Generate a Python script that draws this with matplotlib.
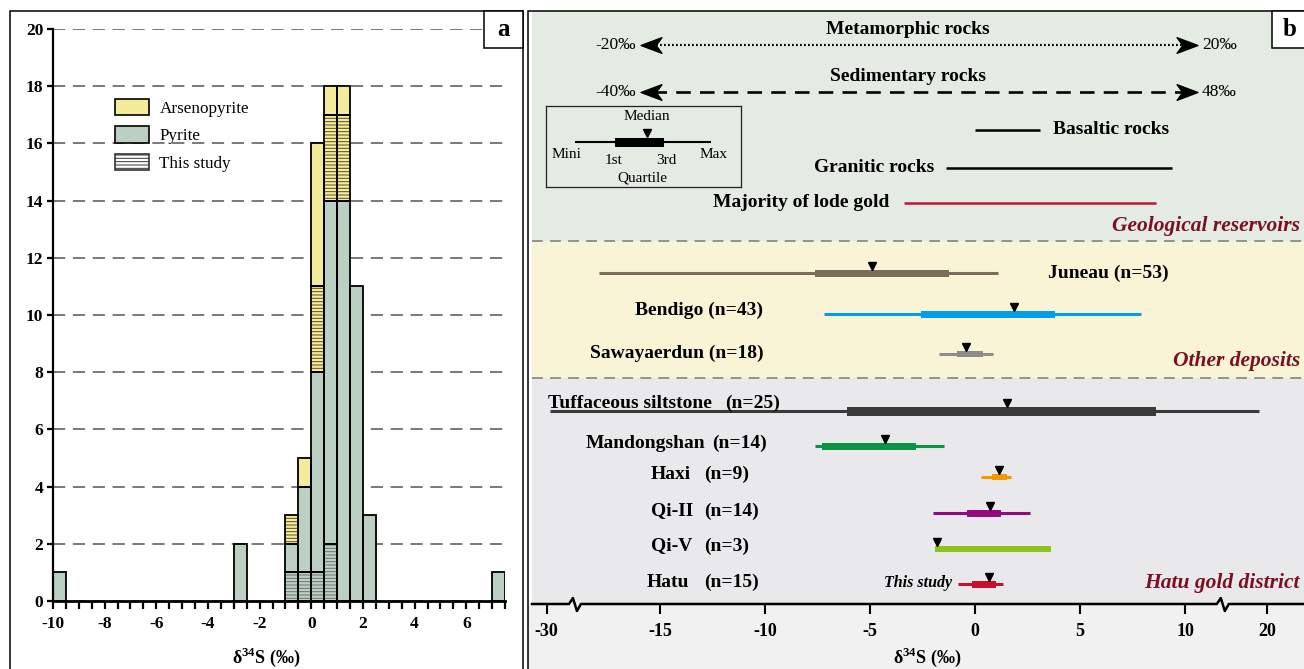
import numpy as np
import matplotlib
matplotlib.use('Agg')
import matplotlib.pyplot as plt
from matplotlib.patches import Rectangle, Patch
from matplotlib.lines import Line2D
from matplotlib.path import Path
from matplotlib import transforms

plt.rcParams['font.family'] = ['Liberation Serif', 'DejaVu Serif']
plt.rcParams['mathtext.fontset'] = 'custom'
plt.rcParams['mathtext.rm'] = 'Liberation Serif'
plt.rcParams['mathtext.bf'] = 'Liberation Serif:bold'
plt.rcParams['hatch.linewidth'] = 0.7
plt.rcParams['axes.unicode_minus'] = False

# ---------------- panel a data (histogram, bin width 0.5 permil) ----------------
bin_width = 0.5
bin_left = [-10.0, -3.0, -1.0, -0.5, 0.0, 0.5, 1.0, 1.5, 2.0, 7.0]
pyrite_this_study = [0, 0, 1, 1, 1, 2, 0, 0, 0, 0]
pyrite_other = [1, 2, 1, 3, 7, 12, 14, 11, 3, 1]
arseno_this_study = [0, 0, 1, 0, 3, 3, 3, 0, 0, 0]
arseno_other = [0, 0, 0, 1, 5, 1, 1, 0, 0, 0]
legend_labels_a = ['Arsenopyrite', 'Pyrite', 'This study']
xticks_a = [-10, -8, -6, -4, -2, 0, 2, 4, 6]
yticks_a = [0, 2, 4, 6, 8, 10, 12, 14, 16, 18, 20]

# ---------------- panel b data (box summaries) ----------------
sample_names = ['Juneau', 'Bendigo', 'Sawayaerdun', 'Tuffaceous siltstone',
                'Mandongshan', 'Haxi', 'Qi-II', 'Qi-V', 'Hatu']
sample_n = [53, 43, 18, 25, 14, 9, 14, 3, 15]
s_min = [-17.9, -7.2, -1.7, -28.7, -7.6, 0.3, -2.0, -1.9, -0.8]
s_q1 = [-7.6, -2.55, -0.85, -6.1, -7.3, 0.8, -0.4, -1.9, -0.15]
s_med = [-4.9, 1.85, -0.45, 1.5, -4.3, 1.15, 0.7, -1.8, 0.65]
s_q3 = [-1.25, 3.8, 0.4, 8.6, -2.8, 1.5, 1.25, 3.6, 1.0]
s_max = [1.1, 7.9, 0.85, 18.4, -1.5, 1.7, 2.6, 3.6, 1.35]

reservoir_names = ['Basaltic rocks', 'Granitic rocks', 'Majority of lode gold']
reservoir_min = [0.0, -1.4, -3.4]
reservoir_max = [3.1, 9.4, 8.6]
wide_names = ['Metamorphic rocks', 'Sedimentary rocks']
wide_min_labels = ['-20‰', '-40‰']
wide_max_labels = ['20‰', '48‰']
xticks_b = [-30, -15, -10, -5, 0, 5, 10, 20]

# ---------------- styles / layout ----------------
W, H = 1304, 669
pyrite_color = '#bccfc3'
arseno_color = '#f4ec9b'
sample_colors = ['#7b6b5b', '#00a0e9', '#8c8c8c', '#3a3a3a', '#0b9444',
                 '#f39800', '#93097f', '#8dc21f', '#c8102e']
reservoir_colors = ['black', 'black', '#c0143c']
region_color = '#7a1022'

fig = plt.figure(figsize=(W / 100, H / 100), dpi=100)


def fx(px):
    return px / W


def fy(py):
    return 1 - py / H


# ---- panel frames ----
fig.patches.append(Rectangle((fx(10), fy(700)), fx(523) - fx(10), fy(11) - fy(700),
                             transform=fig.transFigure, fill=False, ec='black', lw=1.1, zorder=5))
fig.patches.append(Rectangle((fx(528), fy(700)), fx(1310) - fx(528), fy(604) - fy(700),
                             transform=fig.transFigure, fc='#f1f1f1', ec='none', zorder=-1))
fig.patches.append(Rectangle((fx(528), fy(700)), fx(1310) - fx(528), fy(11) - fy(700),
                             transform=fig.transFigure, fill=False, ec='black', lw=1.1, zorder=5))

# ================= panel a =================
axa = fig.add_axes([fx(53), fy(601), fx(505) - fx(53), fy(29) - fy(601)])
left = np.array(bin_left)
bottom = np.zeros(len(left))
segments = [(pyrite_this_study, pyrite_color, '#6e6e6e'),
            (pyrite_other, pyrite_color, None),
            (arseno_this_study, arseno_color, '#5a4a20'),
            (arseno_other, arseno_color, None)]
for vals, col, hc in segments:
    vals = np.array(vals, float)
    m = vals > 0
    if hc is not None:
        axa.bar(left[m], vals[m], width=bin_width, bottom=bottom[m], align='edge',
                color=col, edgecolor=hc, hatch='-----', linewidth=0, zorder=2)
    else:
        axa.bar(left[m], vals[m], width=bin_width, bottom=bottom[m], align='edge',
                color=col, linewidth=0, zorder=2)
    axa.bar(left[m], vals[m], width=bin_width, bottom=bottom[m], align='edge',
            fill=False, edgecolor='black', linewidth=1.3, zorder=3)
    bottom += vals

axa.set_xlim(-10, 7.5)
axa.set_ylim(0, 20)
axa.set_xticks(xticks_a)
axa.set_xticks(np.arange(-10, 7.51, 0.5), minor=True)
axa.set_yticks(yticks_a)
for s in ['top', 'right']:
    axa.spines[s].set_visible(False)
axa.spines['left'].set_linewidth(1.6)
axa.spines['bottom'].set_linewidth(2.0)
axa.tick_params(axis='x', which='both', direction='out', length=6, width=1.6, pad=5)
axa.tick_params(axis='y', which='major', direction='out', length=4, width=1.6, pad=3)
for lab in axa.get_xticklabels() + axa.get_yticklabels():
    lab.set_fontweight('bold')
    lab.set_fontsize(12.5)
axa.yaxis.grid(True, linestyle=(0, (8, 5)), color='#555555', lw=1.1)
axa.set_axisbelow(True)
axa.set_xlabel('δ$^{\\mathbf{34}}$S (‰)', fontweight='bold', fontsize=13)
axa.xaxis.set_label_coords((266 - 53) / 452, -(646 - 601) / 572)

handles = [Patch(facecolor=arseno_color, edgecolor='black', lw=1.2),
           Patch(facecolor=pyrite_color, edgecolor='black', lw=1.2),
           Patch(facecolor='white', edgecolor='#333333', hatch='-----', lw=1.2)]
axa.legend(handles, legend_labels_a, loc='upper left',
           bbox_to_anchor=((115 - 53) / 452, 1 - (99 - 29) / 572),
           frameon=False, fontsize=12.3, handlelength=2.0, handleheight=1.1,
           handletextpad=0.6, labelspacing=0.55, borderpad=0, borderaxespad=0)

# panel label a
fig.patches.append(Rectangle((fx(484), fy(48)), fx(523) - fx(484), fy(11) - fy(48),
                             transform=fig.transFigure, fc='white', ec='black', lw=1.1, zorder=6))
fig.text(fx(503.5), fy(29), 'a', ha='center', va='center', fontsize=18,
         fontweight='bold', zorder=7)

# ================= panel b =================
# broken axis: piecewise-linear scale (compressed beyond the breaks)
A_data = [-45.0, -30.0, -19.0, 12.0, 20.0, 35.0]
A_disp = [-22.309, -20.4, -19.0, 12.0, 13.9, 17.4625]


def fwd(x):
    return np.interp(x, A_data, A_disp)


def inv(u):
    return np.interp(u, A_disp, A_data)


axb = fig.add_axes([fx(532), fy(604), fx(1304) - fx(532), fy(11) - fy(604)])
axb.set_facecolor('none')
axb.set_xscale('function', functions=(fwd, inv))
axb.set_xlim(inv((532 - 975) / 21.0), inv((1304 - 975) / 21.0))
axb.set_ylim(604, 11)
for s in axb.spines.values():
    s.set_visible(False)
axb.set_xticks(xticks_b)
axb.set_xticklabels([str(t) for t in xticks_b])
axb.set_yticks([])
axb.tick_params(axis='x', direction='out', length=7.5, width=1.5, pad=6)
for lab in axb.get_xticklabels():
    lab.set_fontweight('bold')
    lab.set_fontsize(13)
axb.set_xlabel('δ$^{\\mathbf{34}}$S (‰)', fontweight='bold', fontsize=13)
axb.xaxis.set_label_coords((927 - 532) / 772, -(646 - 604) / 593)

# background bands (y in panel pixel units)
band_edges = [11, 241, 378, 604]
band_colors = ['#e4ebe3', '#faf4d6', '#e9e9eb']
for k in range(3):
    axb.axhspan(band_edges[k], band_edges[k + 1], color=band_colors[k], zorder=0, lw=0)
for yb in band_edges[1:3]:
    axb.axhline(yb, color='#8a8a8a', lw=1.3, ls=(0, (6, 4)), zorder=1)

tb = transforms.blended_transform_factory(axb.transAxes, axb.transData)


def bx(px):
    return (px - 532) / 772


label_font = dict(fontsize=14, fontweight='bold', transform=tb, va='center')

# wide ranges as schematic arrows
arrow_ys = [45, 92]
title_ys = [29, 76]
arrow_styles = [(0, (0.8, 1.0)), (0, (5.5, 3.5))]
arrow_lws = [1.6, 1.9]
head_r = Path([(1, 0), (-1, 0.75), (-0.45, 0), (-1, -0.75), (1, 0)],
              [Path.MOVETO, Path.LINETO, Path.LINETO, Path.LINETO, Path.CLOSEPOLY])
head_l = Path([(-1, 0), (1, 0.75), (0.45, 0), (1, -0.75), (-1, 0)],
              [Path.MOVETO, Path.LINETO, Path.LINETO, Path.LINETO, Path.CLOSEPOLY])
for k in range(2):
    y = arrow_ys[k]
    axb.plot([bx(652), bx(1186)], [y, y], color='black', lw=arrow_lws[k],
             ls=arrow_styles[k], transform=tb, zorder=3)
    axb.plot([bx(651)], [y], marker=head_l, ms=15, color='black', transform=tb, zorder=4)
    axb.plot([bx(1187)], [y], marker=head_r, ms=15, color='black', transform=tb, zorder=4)
    axb.text(bx(908), title_ys[k], wide_names[k], ha='center', **label_font)
    axb.text(bx(636), y, wide_min_labels[k], ha='right', va='center', fontsize=12.5, transform=tb)
    axb.text(bx(1202), y, wide_max_labels[k], ha='left', va='center', fontsize=12.5, transform=tb)

# reservoirs
res_y = [130, 168, 203]
res_label_x = [1053, 934, 889]
res_label_ha = ['left', 'right', 'right']
for k in range(3):
    axb.hlines(res_y[k], reservoir_min[k], reservoir_max[k], color=reservoir_colors[k], lw=1.8, zorder=3)
    axb.text(bx(res_label_x[k]), res_y[k] - 1, reservoir_names[k], ha=res_label_ha[k], **label_font)

# region labels
region_font = dict(fontsize=15.5, fontweight='bold', style='italic', color=region_color,
                   transform=tb, va='center', ha='right')
axb.text(bx(1300), 226, 'Geological reservoirs', **region_font)
axb.text(bx(1300), 361, 'Other deposits', **region_font)
axb.text(bx(1300), 583, 'Hatu gold district', **region_font)

# sample boxes
row_y = [273, 314, 354, 411, 446, 477, 513, 549, 584]
box_h = [7, 7, 6, 9, 7, 6, 7, 6, 7]
whisk_lw = [2.2, 2.2, 2.2, 2.2, 2.2, 2.2, 2.2, 0, 2.2]
for i in range(len(sample_names)):
    y = row_y[i]
    c = sample_colors[i]
    if whisk_lw[i] > 0:
        axb.hlines(y, s_min[i], s_max[i], color=c, lw=whisk_lw[i], zorder=3)
    axb.barh(y, s_q3[i] - s_q1[i], left=s_q1[i], height=box_h[i], color=c, zorder=4)
    axb.plot([s_med[i]], [y - box_h[i] / 2 - 3.6], marker='v', ms=5.5, color='black',
             lw=0, zorder=5)

# sample labels: (name x, name y, name ha, n x, n ha)
name_pos = [(1048, 273, 'left'), (635, 310, 'left'), (590, 353, 'left'), (548, 403, 'left'),
            (586, 443, 'left'), (651, 474, 'left'), (651, 511, 'left'), (651, 546, 'left'),
            (647, 582, 'left')]
n_pos = [None, None, None, (725, 'left'), (767, 'right'), (704, 'left'), (704, 'left'),
         (704, 'left'), (704, 'left')]
for i in range(len(sample_names)):
    px, py, ha = name_pos[i]
    if n_pos[i] is None:
        axb.text(bx(px), py, f'{sample_names[i]} (n={sample_n[i]})', ha=ha, **label_font)
    else:
        axb.text(bx(px), py, sample_names[i], ha=ha, **label_font)
        nx, nha = n_pos[i]
        axb.text(bx(nx), py, f'(n={sample_n[i]})', ha=nha, **label_font)
axb.text(bx(952), 583, 'This study', ha='right', va='center', fontsize=11.5,
         fontweight='bold', style='italic', transform=tb)

# broken x-axis line with zigzags
fig.canvas.draw()
break_data = [-19.4, 11.8]
break_px = [axb.transData.transform((b, 300))[0] for b in break_data]
ax_y = 604
pts = [(532, ax_y)]
for bp in break_px:
    pts += [(bp - 6, ax_y), (bp - 2, ax_y - 6), (bp + 2, ax_y + 7), (bp + 6, ax_y)]
pts.append((1304, ax_y))
fig.add_artist(Line2D([fx(p[0]) for p in pts], [fy(p[1]) for p in pts],
                      transform=fig.transFigure, color='black', lw=1.8, zorder=6))

# schematic legend (box-plot explanation)
axl = fig.add_axes([fx(546), fy(187), fx(741) - fx(546), fy(106) - fy(187)])
axl.set_xlim(0, 195)
axl.set_ylim(81, 0)
axl.set_facecolor('none')
axl.set_xticks([])
axl.set_yticks([])
for s in axl.spines.values():
    s.set_linewidth(0.9)
    s.set_color('#222222')
demo = [29, 69, 101, 118, 165]
axl.hlines(36, demo[0], demo[4], color='black', lw=1.5)
axl.barh(36, demo[3] - demo[1], left=demo[1], height=9, color='black')
axl.plot([demo[2]], [26.5], marker='v', ms=6, color='black', lw=0)
demo_txt = [('Median', 101, 10), ('Mini', 20, 48), ('Max', 168, 48),
            ('1st', 68, 55), ('3rd', 120, 55), ('Quartile', 96, 72)]
for t, x, y in demo_txt:
    axl.text(x, y, t, ha='center', va='center', fontsize=11)

# panel label b
fig.patches.append(Rectangle((fx(1272), fy(48)), fx(1310) - fx(1272), fy(11) - fy(48),
                             transform=fig.transFigure, fc='white', ec='black', lw=1.1, zorder=6))
fig.text(fx(1290), fy(29), 'b', ha='center', va='center', fontsize=18,
         fontweight='bold', zorder=7)

fig.savefig('out.png', dpi=100)
